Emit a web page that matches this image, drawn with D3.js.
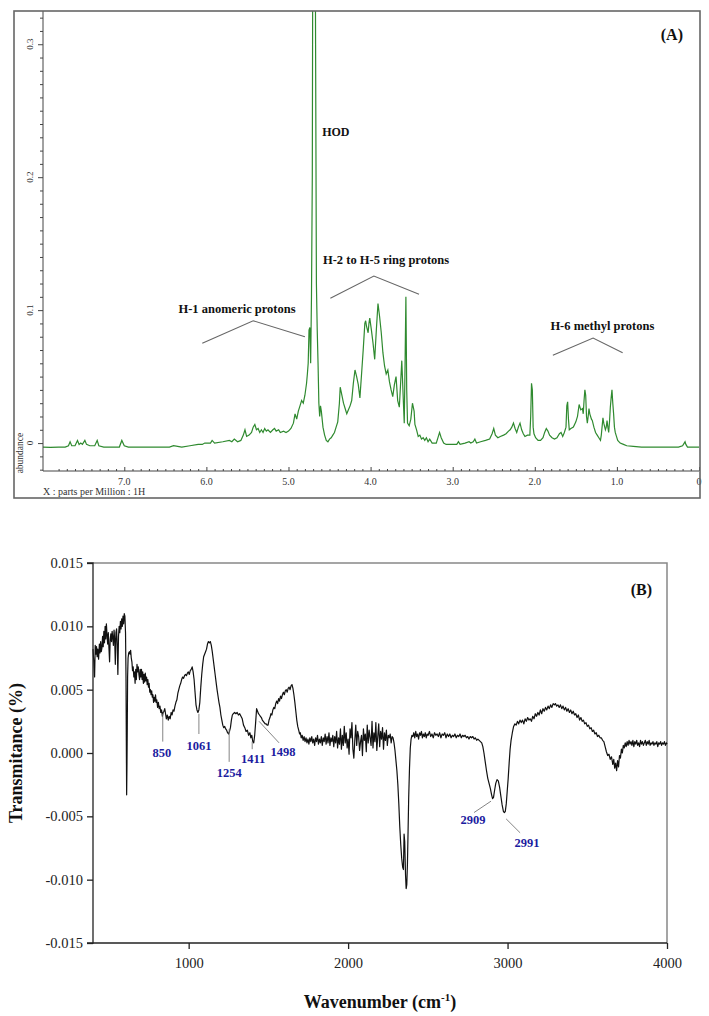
<!DOCTYPE html>
<html><head><meta charset="utf-8">
<script src="https://cdn.jsdelivr.net/npm/d3@7"></script>
<style>body{margin:0;background:#fff} svg{display:block}</style>
</head><body>
<svg id="c" width="709" height="1016"></svg>
<script>
// ---------- DATA ----------
const nmrSpectrum = [
[7.99,-0.003],[7.90,-0.0032],[7.80,-0.003],[7.72,-0.003],[7.68,-0.002],[7.66,0.001],[7.64,-0.002],[7.60,-0.002],[7.57,0.002],[7.55,-0.001],[7.53,0.000],[7.51,-0.001],[7.48,0.002],[7.46,-0.001],[7.42,-0.002],[7.36,-0.002],[7.33,0.002],[7.31,-0.002],[7.25,-0.003],[7.15,-0.003],[7.06,-0.003],[7.03,0.002],[7.00,-0.002],[6.95,-0.003],[6.80,-0.003],[6.60,-0.003],[6.45,-0.003],[6.40,-0.002],[6.30,-0.003],[6.20,-0.002],[6.10,-0.001],[6.05,-0.001],[6.02,0.000],[5.95,0.000],[5.93,0.002],[5.90,0.000],[5.80,0.001],[5.72,0.002],[5.69,0.001],[5.66,0.003],[5.62,0.001],[5.58,0.002],[5.55,0.006],[5.53,0.010],[5.51,0.005],[5.48,0.006],[5.45,0.008],[5.43,0.012],[5.41,0.014],[5.39,0.010],[5.37,0.011],[5.35,0.008],[5.33,0.010],[5.31,0.008],[5.29,0.011],[5.27,0.009],[5.25,0.010],[5.22,0.008],[5.19,0.010],[5.17,0.011],[5.15,0.009],[5.12,0.010],[5.10,0.008],[5.06,0.009],[5.03,0.008],[5.00,0.009],[4.97,0.011],[4.94,0.015],[4.92,0.022],[4.90,0.018],[4.88,0.024],[4.86,0.028],[4.84,0.032],[4.82,0.030],[4.80,0.036],[4.78,0.045],[4.77,0.052],[4.76,0.060],[4.75,0.085],[4.74,0.087],[4.73,0.060],[4.72,0.110],[4.71,0.200],[4.70,0.50],[4.69,0.40],[4.68,0.50],[4.67,0.30],[4.66,0.12],[4.65,0.085],[4.64,0.060],[4.63,0.030],[4.62,0.020],[4.61,0.028],[4.60,0.024],[4.58,0.012],[4.56,0.006],[4.54,0.002],[4.52,0.001],[4.50,0.003],[4.48,0.004],[4.46,0.006],[4.44,0.008],[4.42,0.012],[4.40,0.016],[4.38,0.030],[4.37,0.042],[4.35,0.036],[4.33,0.030],[4.31,0.026],[4.29,0.022],[4.27,0.025],[4.25,0.028],[4.23,0.032],[4.21,0.045],[4.19,0.055],[4.17,0.050],[4.15,0.044],[4.13,0.034],[4.11,0.052],[4.09,0.070],[4.07,0.090],[4.06,0.092],[4.05,0.088],[4.03,0.083],[4.02,0.090],[4.01,0.094],[3.99,0.085],[3.97,0.075],[3.95,0.063],[3.93,0.085],[3.91,0.105],[3.89,0.095],[3.87,0.083],[3.85,0.068],[3.83,0.058],[3.81,0.052],[3.79,0.055],[3.77,0.046],[3.75,0.040],[3.73,0.035],[3.71,0.044],[3.69,0.050],[3.67,0.032],[3.65,0.027],[3.63,0.050],[3.62,0.062],[3.60,0.030],[3.59,0.015],[3.58,0.060],[3.57,0.110],[3.56,0.040],[3.55,0.015],[3.53,0.013],[3.51,0.018],[3.49,0.030],[3.47,0.024],[3.46,0.014],[3.44,0.010],[3.42,0.005],[3.40,0.006],[3.38,0.003],[3.36,0.004],[3.34,0.002],[3.32,0.004],[3.30,0.001],[3.28,0.003],[3.25,0.000],[3.20,0.000],[3.17,0.006],[3.16,0.008],[3.14,0.004],[3.11,0.000],[3.08,-0.001],[3.00,-0.001],[2.95,-0.001],[2.93,0.001],[2.91,-0.001],[2.85,0.000],[2.80,0.001],[2.78,0.000],[2.75,0.001],[2.73,0.003],[2.71,0.000],[2.66,0.001],[2.60,0.002],[2.55,0.003],[2.52,0.007],[2.50,0.011],[2.48,0.006],[2.45,0.004],[2.42,0.005],[2.38,0.006],[2.35,0.007],[2.32,0.009],[2.30,0.010],[2.28,0.012],[2.26,0.015],[2.24,0.011],[2.22,0.008],[2.20,0.012],[2.18,0.015],[2.16,0.010],[2.14,0.007],[2.12,0.005],[2.09,0.006],[2.06,0.006],[2.05,0.020],[2.04,0.045],[2.03,0.040],[2.02,0.012],[2.01,0.007],[1.99,0.004],[1.96,0.002],[1.93,0.002],[1.90,0.004],[1.88,0.008],[1.86,0.011],[1.84,0.009],[1.82,0.006],[1.79,0.004],[1.76,0.003],[1.73,0.004],[1.70,0.007],[1.68,0.008],[1.66,0.005],[1.64,0.008],[1.62,0.012],[1.61,0.028],[1.60,0.031],[1.59,0.018],[1.58,0.010],[1.56,0.011],[1.53,0.012],[1.50,0.016],[1.48,0.020],[1.46,0.029],[1.44,0.025],[1.42,0.026],[1.41,0.022],[1.40,0.032],[1.39,0.040],[1.38,0.036],[1.37,0.020],[1.36,0.015],[1.35,0.020],[1.34,0.026],[1.33,0.022],[1.31,0.018],[1.30,0.017],[1.28,0.012],[1.26,0.008],[1.24,0.006],[1.22,0.004],[1.20,0.002],[1.19,0.006],[1.17,0.019],[1.16,0.015],[1.14,0.010],[1.13,0.012],[1.12,0.017],[1.11,0.012],[1.10,0.008],[1.09,0.016],[1.08,0.027],[1.07,0.034],[1.06,0.040],[1.05,0.030],[1.04,0.022],[1.03,0.012],[1.02,0.008],[1.01,0.006],[0.99,0.002],[0.96,0.000],[0.92,-0.001],[0.88,-0.002],[0.80,-0.0025],[0.70,-0.003],[0.60,-0.003],[0.40,-0.003],[0.25,-0.003],[0.20,-0.002],[0.18,0.000],[0.17,0.001],[0.16,-0.001],[0.14,-0.003],[0.05,-0.003],[0.00,-0.003]
];
const nmrXTicks = [7,6,5,4,3,2,1,0];
const nmrXTickLabels = ["7.0","6.0","5.0","4.0","3.0","2.0","1.0","0"];
const nmrYTicks = [0,0.1,0.2,0.3];
const nmrYTickLabels = ["0","0.1","0.2","0.3"];
const nmrGroupLabels = ["HOD","H-1 anomeric protons","H-2 to H-5 ring protons","H-6 methyl protons"];

const irSpectrum = [
[400,0.0082],[405,0.0072],[410,0.0060],[414,0.0085],[418,0.0078],[422,0.0084],[426,0.0076],[430,0.0082],[435,0.0074],[440,0.0086],[444,0.0079],[448,0.0088],[452,0.0080],[456,0.0083],[460,0.0092],[464,0.0084],[468,0.0096],[472,0.0087],[476,0.0100],[480,0.0090],[484,0.0102],[488,0.0093],[492,0.0086],[496,0.0095],[500,0.0083],[504,0.0072],[508,0.0090],[512,0.0094],[516,0.0088],[520,0.0096],[524,0.0091],[528,0.0085],[532,0.0097],[536,0.0090],[540,0.0070],[544,0.0095],[548,0.0098],[552,0.0085],[556,0.0062],[560,0.0092],[564,0.0100],[568,0.0095],[572,0.0104],[576,0.0098],[580,0.0106],[584,0.0100],[588,0.0108],[592,0.0102],[596,0.0110],[600,0.0108],[604,0.0095],[607,0.0060],[609,0.0010],[611,-0.0033],[613,-0.0010],[615,0.0020],[617,0.0060],[620,0.0075],[624,0.0079],[628,0.0080],[632,0.0078],[636,0.0081],[640,0.0075],[644,0.0072],[648,0.0065],[652,0.0068],[656,0.0060],[660,0.0064],[664,0.0055],[668,0.0066],[672,0.0058],[676,0.0070],[680,0.0064],[684,0.0068],[688,0.0062],[692,0.0058],[696,0.0066],[700,0.0060],[704,0.0066],[708,0.0058],[712,0.0064],[716,0.0055],[720,0.0062],[724,0.0056],[728,0.0063],[732,0.0057],[736,0.0060],[740,0.0054],[744,0.0058],[748,0.0052],[752,0.0055],[756,0.0048],[760,0.0050],[764,0.0046],[768,0.0049],[772,0.0044],[776,0.0046],[780,0.0040],[784,0.0044],[788,0.0041],[792,0.0046],[796,0.0040],[800,0.0042],[805,0.0036],[810,0.0040],[815,0.0035],[820,0.0037],[825,0.0032],[830,0.0034],[835,0.0029],[840,0.0032],[845,0.0033],[850,0.0035],[855,0.0031],[860,0.0027],[866,0.0030],[872,0.0026],[878,0.0029],[884,0.0027],[890,0.0032],[896,0.0030],[902,0.0034],[908,0.0033],[914,0.0037],[920,0.0040],[926,0.0042],[932,0.0047],[938,0.0050],[944,0.0053],[950,0.0055],[956,0.0058],[962,0.0060],[968,0.0059],[974,0.0061],[980,0.0062],[986,0.0061],[992,0.0063],[998,0.0064],[1004,0.0062],[1010,0.0065],[1016,0.0066],[1022,0.0068],[1028,0.0064],[1034,0.0058],[1040,0.0048],[1046,0.0038],[1052,0.0034],[1058,0.0032],[1064,0.0034],[1070,0.0040],[1076,0.0052],[1082,0.0062],[1088,0.0070],[1094,0.0076],[1100,0.0078],[1106,0.0080],[1112,0.0082],[1118,0.0086],[1124,0.0088],[1130,0.0087],[1136,0.0088],[1142,0.0085],[1148,0.0080],[1154,0.0074],[1160,0.0068],[1166,0.0062],[1172,0.0056],[1178,0.0050],[1184,0.0045],[1190,0.0040],[1196,0.0036],[1202,0.0030],[1208,0.0026],[1214,0.0022],[1220,0.0020],[1226,0.0021],[1232,0.0019],[1238,0.0018],[1244,0.0016],[1250,0.0015],[1256,0.0017],[1262,0.0020],[1268,0.0026],[1274,0.0030],[1280,0.0031],[1288,0.0032],[1296,0.0031],[1304,0.0032],[1312,0.0030],[1320,0.0031],[1328,0.0029],[1336,0.0027],[1344,0.0022],[1352,0.0020],[1360,0.0017],[1368,0.0018],[1376,0.0014],[1384,0.0016],[1390,0.0012],[1396,0.0014],[1402,0.0009],[1408,0.0008],[1414,0.0014],[1420,0.0024],[1426,0.0035],[1432,0.0033],[1438,0.0031],[1444,0.0030],[1450,0.0029],[1456,0.0028],[1462,0.0026],[1468,0.0025],[1474,0.0024],[1480,0.0023],[1486,0.0023],[1492,0.0022],[1498,0.0022],[1504,0.0026],[1510,0.0028],[1516,0.0031],[1522,0.0030],[1528,0.0034],[1534,0.0036],[1540,0.0035],[1546,0.0039],[1552,0.0041],[1558,0.0039],[1564,0.0043],[1570,0.0041],[1576,0.0045],[1582,0.0043],[1588,0.0046],[1594,0.0048],[1600,0.0046],[1606,0.0049],[1612,0.0050],[1618,0.0048],[1624,0.0051],[1630,0.0052],[1636,0.0050],[1642,0.0053],[1648,0.0054],[1654,0.0051],[1660,0.0046],[1666,0.0040],[1672,0.0033],[1678,0.0026],[1684,0.0021],[1690,0.0018],[1696,0.0015],
[1700,0.0016],[1706,0.0012],[1712,0.0014],[1718,0.0010],[1724,0.0013],[1730,0.0009],[1736,0.0012],[1742,0.0008],[1748,0.0011],[1754,0.0007],[1760,0.0012],[1766,0.0009],[1772,0.0013],[1778,0.0008],[1784,0.0011],[1790,0.0006],[1796,0.0012],[1802,0.0009],[1808,0.0014],[1814,0.0007],[1820,0.0011],[1826,0.0008],[1832,0.0013],[1838,0.0006],[1844,0.0012],[1850,0.0009],[1856,0.0015],[1862,0.0007],[1868,0.0013],[1874,0.0008],[1880,0.0016],[1886,0.0006],[1892,0.0012],[1898,0.0009],[1904,0.0014],[1910,0.0005],[1916,0.0013],[1922,0.0008],[1928,0.0017],[1934,0.0004],[1940,0.0012],[1946,0.0007],[1952,0.0019],[1958,0.0003],[1964,0.0014],[1970,0.0006],[1976,0.0021],
[1982,0.0008],[1988,0.0016],[1994,0.0004],[2000,0.0011],[2006,-0.0001],[2012,0.0019],[2018,0.0012],[2024,0.0024],[2030,0.0003],[2036,-0.0004],[2042,0.0010],[2048,0.0022],[2054,0.0006],[2060,0.0017],[2066,0.0013],[2072,0.0002],[2078,0.0009],[2084,0.0014],[2090,-0.0002],[2096,0.0019],[2102,0.0010],[2108,0.0015],[2114,0.0001],[2120,0.0022],[2126,0.0008],[2132,0.0018],[2138,0.0012],[2144,0.0006],[2150,0.0025],[2156,0.0004],[2162,0.0016],[2168,0.0009],[2174,0.0024],[2180,0.0002],[2186,0.0013],[2192,0.0023],[2198,0.0005],[2204,0.0017],[2210,0.0011],[2216,0.0020],[2222,0.0003],[2228,0.0016],[2234,0.0010],[2240,0.0018],[2246,0.0006],[2252,0.0014],[2258,0.0012],[2264,0.0015],[2270,0.0008],[2276,0.0013],[2282,0.0012],
[2288,0.0008],[2294,0.0002],[2300,-0.0006],[2306,-0.0014],[2312,-0.0025],[2318,-0.0040],[2324,-0.0058],[2330,-0.0072],[2336,-0.0083],[2342,-0.0090],[2347,-0.0092],[2351,-0.0064],[2355,-0.0070],[2360,-0.0096],[2364,-0.0107],[2368,-0.0104],[2372,-0.0088],[2376,-0.0062],[2380,-0.0035],[2385,-0.0012],[2390,0.0004],[2395,0.0011],[2400,0.0014],
[2406,0.0013],[2412,0.0016],[2418,0.0012],[2424,0.0017],[2430,0.0013],[2436,0.0015],[2442,0.0011],[2448,0.0016],[2454,0.0014],[2460,0.0017],[2466,0.0012],[2472,0.0015],[2478,0.0013],[2484,0.0016],[2490,0.0012],[2496,0.0015],[2502,0.0014],[2510,0.0017],[2518,0.0013],[2526,0.0015],[2534,0.0012],[2542,0.0016],[2550,0.0014],[2558,0.0015],[2566,0.0013],[2574,0.0016],[2582,0.0012],[2590,0.0015],[2598,0.0014],[2606,0.0016],[2614,0.0012],[2622,0.0015],[2630,0.0013],[2638,0.0015],[2646,0.0012],[2654,0.0014],[2662,0.0013],[2670,0.0015],[2678,0.0012],[2686,0.0014],[2694,0.0013],[2702,0.0015],[2710,0.0012],[2718,0.0014],[2726,0.0013],[2734,0.0014],[2742,0.0012],[2750,0.0013],[2758,0.0011],[2766,0.0013],[2774,0.0012],[2782,0.0013],[2790,0.0011],[2798,0.0012],[2806,0.0010],[2814,0.0011],[2822,0.0010],[2830,0.0009],[2838,0.0008],[2845,0.0005],[2852,0.0000],[2860,-0.0007],[2868,-0.0014],[2876,-0.0020],[2884,-0.0024],[2892,-0.0028],[2900,-0.0033],[2906,-0.0036],[2912,-0.0035],[2918,-0.0030],[2926,-0.0024],[2934,-0.0021],[2942,-0.0022],[2950,-0.0027],[2958,-0.0034],[2966,-0.0041],[2974,-0.0046],[2980,-0.0047],[2986,-0.0046],[2992,-0.0040],[2998,-0.0030],[3004,-0.0020],[3010,-0.0008],[3016,0.0003],[3022,0.0010],[3030,0.0016],[3038,0.0021],[3046,0.0023],[3054,0.0022],[3062,0.0025],[3070,0.0023],[3078,0.0026],[3086,0.0024],[3094,0.0026],[3102,0.0023],[3110,0.0027],[3118,0.0025],[3126,0.0028],[3134,0.0026],[3142,0.0027],[3150,0.0025],[3158,0.0029],[3166,0.0027],[3174,0.0031],[3182,0.0029],[3190,0.0032],[3198,0.0030],[3206,0.0034],[3214,0.0031],[3222,0.0035],[3230,0.0033],[3238,0.0036],[3246,0.0034],[3254,0.0037],[3262,0.0035],[3270,0.0038],[3278,0.0036],[3286,0.0039],[3294,0.0038],[3300,0.0039],[3308,0.0037],[3316,0.0038],[3324,0.0036],[3332,0.0038],[3340,0.0035],[3348,0.0037],[3356,0.0034],[3364,0.0036],[3372,0.0033],[3380,0.0035],[3388,0.0032],[3396,0.0034],[3404,0.0031],[3412,0.0033],[3420,0.0030],[3428,0.0031],[3436,0.0028],[3444,0.0030],[3452,0.0026],[3460,0.0028],[3468,0.0025],[3476,0.0026],[3484,0.0023],[3492,0.0024],[3500,0.0021],[3508,0.0022],[3516,0.0019],[3524,0.0020],[3532,0.0017],[3540,0.0018],[3548,0.0015],[3556,0.0016],[3564,0.0013],[3572,0.0014],[3580,0.0012],[3588,0.0012],[3596,0.0010],[3604,0.0009],[3612,0.0005],[3620,0.0001],[3628,-0.0002],[3636,-0.0001],[3644,-0.0005],[3652,-0.0003],[3660,-0.0009],[3666,-0.0005],[3672,-0.0012],[3678,-0.0008],[3684,-0.0014],[3690,-0.0006],[3696,-0.0011],[3702,-0.0002],[3708,-0.0004],[3714,0.0003],[3720,0.0000],[3726,0.0006],[3732,0.0004],[3738,0.0008],[3744,0.0005],[3750,0.0009],[3756,0.0006],[3762,0.0010],[3768,0.0007],[3774,0.0009],[3780,0.0006],[3786,0.0010],[3792,0.0005],[3798,0.0009],[3804,0.0007],[3810,0.0010],[3816,0.0006],[3822,0.0008],[3828,0.0005],[3834,0.0010],[3840,0.0007],[3846,0.0009],[3852,0.0006],[3858,0.0008],[3864,0.0010],[3870,0.0006],[3876,0.0009],[3882,0.0007],[3888,0.0010],[3894,0.0006],[3900,0.0008],[3906,0.0007],[3912,0.0009],[3918,0.0006],[3924,0.0008],[3930,0.0007],[3936,0.0009],[3942,0.0005],[3948,0.0008],[3954,0.0007],[3960,0.0009],[3966,0.0006],[3972,0.0008],[3978,0.0007],[3984,0.0009],[3990,0.0006],[3996,0.0008],[4000,0.0007]
];
const irXTicks = [1000,2000,3000,4000];
const irYTicks = [-0.015,-0.010,-0.005,0,0.005,0.010,0.015];
const irPeakLabels = ["850","1061","1254","1411","1498","2909","2991"];

// ---------- DRAW ----------
const svg = d3.select("#c");
const serif = "'Liberation Serif','Times New Roman',serif";

// ===== Panel A (1H NMR) =====
const A = {l:43, r:699, t:11, b:471};
const xA = d3.scaleLinear().domain([7.99,0]).range([A.l,A.r]);
const yA = d3.scaleLinear().domain([-0.021,0.325]).range([A.b,A.t]);

svg.append("defs").append("clipPath").attr("id","clipA")
  .append("rect").attr("x",A.l).attr("y",A.t).attr("width",A.r-A.l).attr("height",A.b-A.t);

svg.append("path").datum(nmrSpectrum)
  .attr("clip-path","url(#clipA)")
  .attr("fill","none").attr("stroke","#2f8a2f").attr("stroke-width",1.2)
  .attr("d", d3.line().x(d=>xA(d[0])).y(d=>yA(d[1])));

const gAy = svg.append("g").attr("transform",`translate(${A.l},0)`);
gAy.call(d3.axisLeft(yA).tickValues(d3.range(-0.02,0.321,0.01)).tickSize(3).tickFormat(""));
gAy.select(".domain").attr("d",`M0,${A.t}V${A.b}`).attr("stroke","#444");
gAy.selectAll(".tick line").attr("stroke","#444");
gAy.selectAll(".tick").filter(d=>nmrYTicks.some(v=>Math.abs(v-d)<1e-9)).select("line").attr("x2",-5);
nmrYTicks.forEach((v,i)=>{
  svg.append("text").attr("transform",`translate(${A.l-10},${yA(v)}) rotate(-90)`)
    .attr("text-anchor","middle").attr("font-family",serif).attr("font-size",9).attr("fill","#333")
    .text(nmrYTickLabels[i]);
});
svg.append("text").attr("transform",`translate(${A.l-20},${yA(-0.0075)}) rotate(-90)`)
  .attr("text-anchor","middle").attr("font-family",serif).attr("font-size",9.5).attr("fill","#333")
  .text("abundance");

const gAx = svg.append("g").attr("transform",`translate(0,${A.b})`);
gAx.call(d3.axisTop(xA).tickValues(d3.range(0,79).map(i=>i/10)).tickSize(2).tickFormat(""));
gAx.select(".domain").attr("d",`M${A.l},0H${A.r}`).attr("stroke","#444");
gAx.selectAll(".tick line").attr("stroke","#444");
gAx.selectAll(".tick").filter(d=>Math.abs(d-Math.round(d))<1e-9).select("line").attr("y2",-4);
nmrXTicks.forEach((v,i)=>{
  svg.append("text").attr("x",xA(v)).attr("y",A.b+14).attr("text-anchor","middle")
    .attr("font-family",serif).attr("font-size",10).attr("fill","#333").text(nmrXTickLabels[i]);
});
svg.append("text").attr("x",A.l).attr("y",A.b+24).attr("font-family",serif).attr("font-size",10)
  .attr("fill","#333").text("X : parts per Million : 1H");

svg.append("rect").attr("x",14).attr("y",11).attr("width",686).attr("height",487)
  .attr("fill","none").attr("stroke","#666").attr("stroke-width",1.6);

const labStyle = s=>s.attr("font-family",serif).attr("font-weight","bold").attr("font-size",12.5).attr("fill","#111");
const brackets = [
  {label:nmrGroupLabels[1], tx:6.34, ty:0.098, pts:[[6.05,0.075],[5.43,0.092],[4.80,0.080]]},
  {label:nmrGroupLabels[2], tx:4.58, ty:0.135, pts:[[4.49,0.109],[3.96,0.1256],[3.41,0.112]]},
  {label:nmrGroupLabels[3], tx:1.81, ty:0.085, pts:[[1.78,0.066],[1.29,0.079],[0.93,0.068]]}
];
brackets.forEach(b=>{
  svg.append("path").attr("fill","none").attr("stroke","#666").attr("stroke-width",1.1)
    .attr("d", d3.line().x(d=>xA(d[0])).y(d=>yA(d[1]))(b.pts));
  svg.append("text").attr("x",xA(b.tx)).attr("y",yA(b.ty)).call(labStyle).text(b.label);
});
svg.append("text").attr("x",xA(4.59)).attr("y",yA(0.231)).call(labStyle).attr("font-size",12).text(nmrGroupLabels[0]);
svg.append("text").attr("x",683).attr("y",40).attr("text-anchor","end").call(labStyle).attr("font-size",16).text("(A)");

// ===== Panel B (FTIR) =====
const B = {l:93, r:667, t:563, b:943};
const xB = d3.scaleLinear().domain([400,4000]).range([B.l,B.r]);
const yB = d3.scaleLinear().domain([-0.015,0.015]).range([B.b,B.t]);

svg.append("path").attr("fill","none").attr("stroke","#888").attr("stroke-width",1.5)
  .attr("d",`M${B.l},${B.t}H${B.r}V${B.b}`);

svg.append("path").datum(irSpectrum)
  .attr("fill","none").attr("stroke","#111").attr("stroke-width",1.2).attr("stroke-linejoin","round")
  .attr("d", d3.line().x(d=>xB(d[0])).y(d=>yB(d[1])));

const gBy = svg.append("g").attr("transform",`translate(${B.l},0)`)
  .call(d3.axisLeft(yB).tickValues(irYTicks).tickSize(6).tickPadding(4).tickFormat(d3.format(".3f")));
gBy.select(".domain").attr("d",`M-6,${B.t}H0V${B.b}H-6`).attr("stroke","#222").attr("stroke-width",1.3);
gBy.selectAll(".tick line").attr("stroke","#222").attr("stroke-width",1.3);
gBy.selectAll(".tick text").attr("font-family",serif).attr("font-size",14.5).attr("fill","#222")
  .text(d=>d3.format(".3f")(d).replace("\u2212","-"));

const gBx = svg.append("g").attr("transform",`translate(0,${B.b})`)
  .call(d3.axisBottom(xB).tickValues(irXTicks).tickSize(6).tickPadding(9).tickFormat(d3.format("d")));
gBx.select(".domain").attr("d",`M${B.l},0H${B.r}`).attr("stroke","#222").attr("stroke-width",1.3);
gBx.selectAll(".tick line").attr("stroke","#222").attr("stroke-width",1.3);
gBx.selectAll(".tick text").attr("font-family",serif).attr("font-size",14.5).attr("fill","#222");

svg.append("text").attr("transform",`translate(22,${(B.t+B.b)/2}) rotate(-90)`)
  .attr("text-anchor","middle").attr("font-family",serif).attr("font-weight","bold").attr("font-size",18)
  .attr("fill","#111").text("Transmitance (%)");
const xl = svg.append("text").attr("x",380).attr("y",1008).attr("text-anchor","middle")
  .attr("font-family",serif).attr("font-weight","bold").attr("font-size",18).attr("fill","#111");
xl.append("tspan").text("Wavenumber (cm");
xl.append("tspan").attr("dy",-7).attr("font-size",11).text("-1");
xl.append("tspan").attr("dy",7).text(")");

svg.append("text").attr("x",652).attr("y",595).attr("text-anchor","end")
  .attr("font-family",serif).attr("font-weight","bold").attr("font-size",16).attr("fill","#111").text("(B)");

const peakLayout = [
  {lx1:-2, ly1:0.0031, lx2:-2, ly2:0.0009, tx:-3, ty:-0.0003},
  {lx1:0.5, ly1:0.0031, lx2:0.5, ly2:0.0015, tx:0.5, ty:0.0002},
  {lx1:0, ly1:0.0019, lx2:0, ly2:-0.0007, tx:0, ty:-0.0019},
  {lx1:-2, ly1:0.0009, lx2:-2, ly2:0.0003, tx:-1, ty:-0.0008},
  {lx1:-9, ly1:0.0025, lx2:11, ly2:0.0008, tx:15, ty:-0.0002},
  {lx1:-2, ly1:-0.0038, lx2:-19, ly2:-0.0047, tx:-20, ty:-0.0056},
  {lx1:0, ly1:-0.0052, lx2:14, ly2:-0.0063, tx:21, ty:-0.0074}
];
irPeakLabels.forEach((lab,i)=>{
  const w = +lab, p = peakLayout[i], x0 = xB(w);
  svg.append("line").attr("x1",x0+p.lx1).attr("y1",yB(p.ly1)).attr("x2",x0+p.lx2).attr("y2",yB(p.ly2))
    .attr("stroke","#777").attr("stroke-width",0.9);
  svg.append("text").attr("x",x0+p.tx).attr("y",yB(p.ty)).attr("text-anchor","middle")
    .attr("font-family",serif).attr("font-weight","bold").attr("font-size",12.5).attr("fill","#1c1ca0").text(lab);
});
</script>
</body></html>
